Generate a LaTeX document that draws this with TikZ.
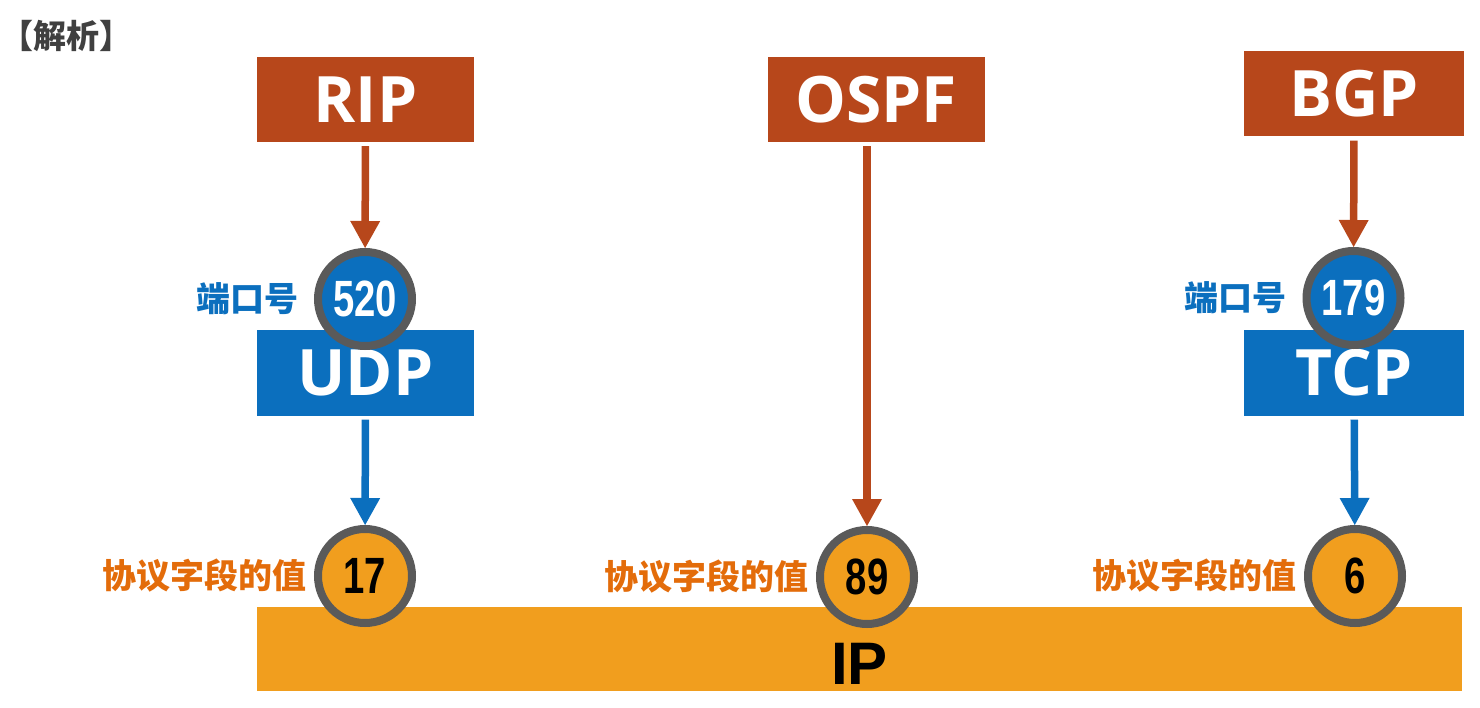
\documentclass[tikz,border=0pt]{standalone}
\usepackage{fontspec}
\usepackage{xcolor}
\usepackage{graphicx}
\usetikzlibrary{arrows.meta, positioning}
\setmainfont{Liberation Sans}
\newfontfamily\boxfont{Open Sans}
\newfontfamily\cjk{Noto Sans CJK SC}
\definecolor{protoRed}{RGB}{183,71,27}
\definecolor{transBlue}{RGB}{11,111,190}
\definecolor{ipOrange}{RGB}{241,158,30}
\definecolor{labelOrange}{RGB}{227,108,10}
\definecolor{ringGray}{RGB}{90,90,90}
\definecolor{titleGray}{RGB}{64,64,64}
\newcommand{\numtext}[1]{\scalebox{0.75}[1]{#1}}

\begin{document}
\begin{tikzpicture}[x=1pt, y=-1pt,
        % --- Style Definitions ---
        node distance=16pt,
        proto_style/.style={rectangle, fill=protoRed, text=white, minimum width=217pt, minimum height=85pt, inner sep=0pt, font=\boxfont\bfseries\fontsize{64}{64}\selectfont},
        trans_style/.style={proto_style, fill=transBlue},
        ip_style/.style={rectangle, fill=ipOrange, minimum width=1205pt, minimum height=84pt, inner sep=0pt},
        ip_text/.style={inner sep=0pt, font=\bfseries\fontsize{60}{60}\selectfont},
        port_style/.style={circle, draw=ringGray, line width=8pt, fill=transBlue, text=white, minimum size=94pt, inner sep=0pt, font=\bfseries\fontsize{51}{51}\selectfont},
        field_style/.style={port_style, fill=ipOrange, text=black},
        port_label/.style={inner sep=0pt, outer sep=0pt, text=transBlue, font=\cjk\bfseries\fontsize{34}{34}\selectfont},
        field_label/.style={port_label, text=labelOrange},
        red_arrow/.style={draw=protoRed, line width=7.5pt, -{Triangle[width=30pt, length=27pt, line width=0pt]}, shorten <=4pt},
        blue_arrow/.style={red_arrow, draw=transBlue}
    ]
        \useasboundingbox (0,0) rectangle (1480,708);

        % --- Title ---
        \node[anchor=west, inner sep=0pt, text=titleGray, font=\cjk\bfseries\fontsize{33}{33}\selectfont] (title) at (0,36) {【解析】};

        % --- Routing Protocols ---
        \node[proto_style] (rip_box) at (365.5,99.5) {RIP};
        \node[proto_style] (ospf_box) at (876,99.5) {OSPF};
        \node[proto_style, minimum width=220pt] (bgp_box) at (1354,94) {BGP};

        % --- Transport Layer ---
        \node[trans_style] (udp_box) at (365.5,373) {UDP};
        \node[trans_style, minimum width=220pt] (tcp_box) at (1354,373) {TCP};

        % --- Network Layer ---
        \node[ip_style] (ip_bar) at (859.5,649) {};
        \node[ip_text] (ip_name) at ([yshift=-15pt]ip_bar.center) {IP};

        % --- Port Numbers ---
        \node[port_style] (port_rip) at (365,299) {\numtext{520}};
        \node[port_style] (port_bgp) at (1353.5,298) {\numtext{179}};
        \node[port_label, left=of port_rip] (port_rip_lbl) {端口号};
        \node[port_label, left=of port_bgp] (port_bgp_lbl) {端口号};

        % --- Protocol Field Values ---
        \node[field_style] (field_udp) at (365,576) {\numtext{17}};
        \node[field_style] (field_ospf) at (867,577) {\numtext{89}};
        \node[field_style] (field_tcp) at (1355,576) {\numtext{6}};
        \node[field_label, left=8pt of field_udp] (field_udp_lbl) {协议字段的值};
        \node[field_label, left=8pt of field_ospf] (field_ospf_lbl) {协议字段的值};
        \node[field_label, left=8pt of field_tcp] (field_tcp_lbl) {协议字段的值};

        % --- Arrows ---
        \draw[red_arrow] (rip_box) -- (port_rip);
        \draw[red_arrow] (ospf_box.south -| field_ospf) -- (field_ospf);
        \draw[red_arrow] (bgp_box) -- (port_bgp);
        \draw[blue_arrow] (udp_box) -- (field_udp);
        \draw[blue_arrow] (tcp_box) -- (field_tcp);

    \end{tikzpicture}
\end{document}
